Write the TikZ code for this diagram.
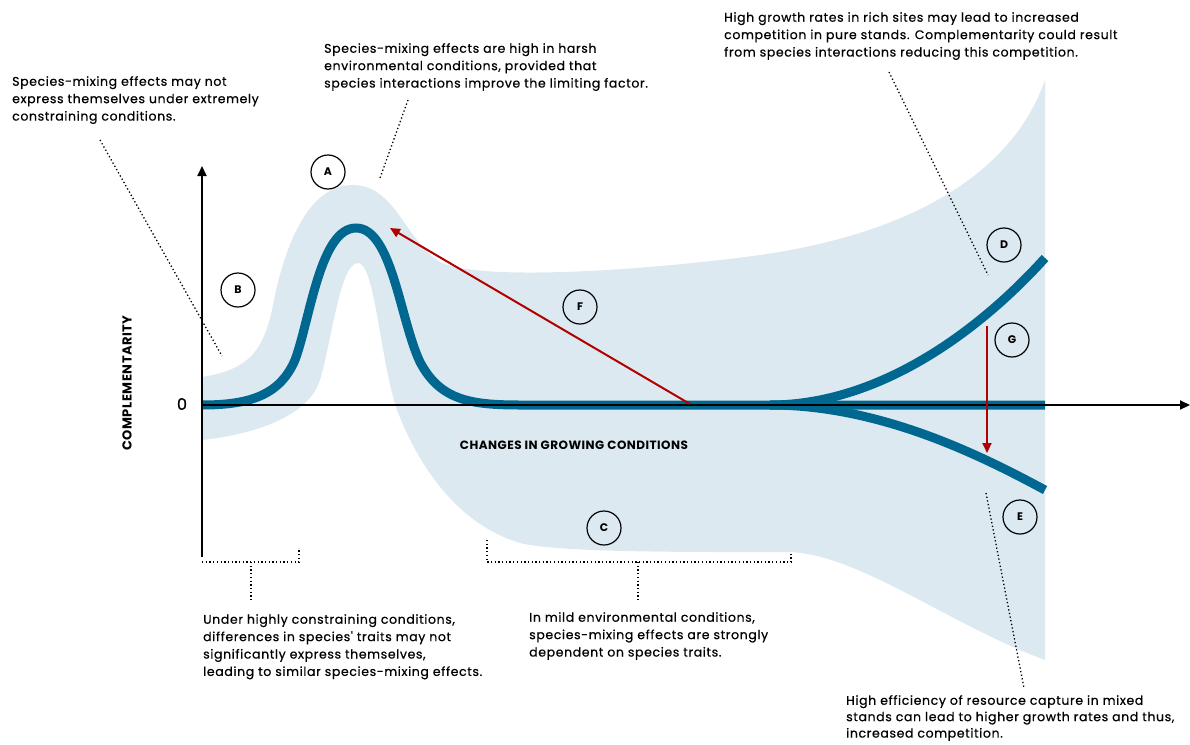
\documentclass[tikz,border=0pt]{standalone}
\usepackage{fontspec}
\setmainfont{Poppins}
\newfontfamily\notefont{Poppins}[FakeBold=0.6, LetterSpace=5]
\newfontfamily\capsfont{Poppins}[LetterSpace=4]
\usetikzlibrary{arrows.meta}

\definecolor{curveblue}{RGB}{0,103,145}
\definecolor{bandblue}{RGB}{221,233,240}
\definecolor{arrowred}{RGB}{176,0,0}

\tikzset{
	note/.style={anchor=north west, align=left, inner sep=0pt,
		font=\notefont\fontsize{12.5}{17.4}\selectfont},
	letter/.style={circle, draw, line width=1.2pt, minimum size=34pt,
		inner sep=0pt, font=\fontsize{11}{12}\selectfont\bfseries},
	leader/.style={line width=1.3pt, dash pattern=on 1.3pt off 2.4pt},
	axislabel/.style={inner sep=0pt, font=\capsfont\bfseries\fontsize{12}{14}\selectfont},
	redarrow/.style={arrowred, line width=2pt, -{Triangle[length=10pt,width=9pt]}}
}

\begin{document}
\begin{tikzpicture}[x=1pt, y=-1pt]
	\useasboundingbox (0,0) rectangle (1190,744);

	% band of possible responses
	\fill[bandblue] (202,377)
		.. controls (245,370) and (262,355) .. (272,310)
		.. controls (285,240) and (310,185) .. (353,185)
		.. controls (395,185) and (405,240) .. (440,262)
		.. controls (480,282) and (650,270) .. (760,255)
		.. controls (900,235) and (1010,180) .. (1045,80)
		-- (1045,660)
		.. controls (950,625) and (860,555) .. (790,552)
		.. controls (700,552) and (560,553) .. (520,543)
		.. controls (460,525) and (420,470) .. (397,410)
		.. controls (380,360) and (375,263) .. (358,263)
		.. controls (340,263) and (332,340) .. (320,380)
		.. controls (308,418) and (250,435) .. (202,440)
		-- cycle;

	% mean response
	\draw[curveblue, line width=9pt] (202,405)
		.. controls (250,405) and (280,395) .. (295,360)
		.. controls (310,320) and (320,228) .. (356,228)
		.. controls (392,228) and (400,320) .. (420,362)
		.. controls (440,400) and (470,405) .. (520,405)
		-- (1045,405);
	\draw[curveblue, line width=9pt] (770,405)
		.. controls (880,405) and (980,330) .. (1045,258);
	\draw[curveblue, line width=9pt] (770,405)
		.. controls (880,405) and (980,455) .. (1045,490);

	% axes
	\coordinate (O) at (202,405);
	\coordinate (ybot) at (202,557);
	\coordinate (ytop) at (202,166);
	\coordinate (xend) at (1190,405);
	\draw[line width=2pt, -{Triangle[length=10pt,width=9pt]}] (ybot) -- (ytop);
	\draw[line width=2pt, -{Triangle[length=10pt,width=9pt]}] (O) -- (xend);
	\node[font=\notefont\fontsize{16}{18}\selectfont] (zero) at (182,404) {0};
	\node[axislabel, rotate=90] (ylab) at (127,383) {\fontsize{13}{14}\selectfont COMPLEMENTARITY};
	\node[axislabel] (xlab) at (574,445) {CHANGES IN GROWING CONDITIONS};

	% red arrows
	\coordinate (Fstart) at (690,404);
	\coordinate (Fend) at (390,228);
	\coordinate (Gstart) at (987,326);
	\coordinate (Gend) at (987,453);
	\draw[redarrow] (Fstart) -- (Fend);
	\draw[redarrow] (Gstart) -- (Gend);

	% letters
	\foreach \name/\x/\y in {A/328/172, B/238/290, C/604/528, D/1004/245,
		E/1020/517, F/580/307, G/1012/340}
		\node[letter] (\name) at (\x,\y) {\name};

	% notes
	\node[note] (noteB) at (12,76) {Species-mixing effects may not\\
		express themselves under extremely\\constraining conditions.};
	\node[note] (noteA) at (324,43) {Species-mixing effects are high in harsh\\
		environmental conditions, provided that\\species interactions improve the limiting factor.};
	\node[note] (noteD) at (724,12) {High growth rates in rich sites may lead to increased\\
		competition in pure stands. Complementarity could result\\from species interactions reducing this competition.};
	\node[note] (noteL) at (203,614) {Under highly constraining conditions,\\
		differences in species' traits may not\\significantly express themselves,\\
		leading to similar species-mixing effects.};
	\node[note] (noteC) at (529,612) {In mild environmental conditions,\\
		species-mixing effects are strongly\\dependent on species traits.};
	\node[note, font=\notefont\fontsize{12.5}{16.4}\selectfont] (noteE) at (846,695)
		{High efficiency of resource capture in mixed\\
		stands can lead to higher growth rates and thus,\\increased competition.};

	% leaders
	\coordinate (lB1) at (100,140);
	\coordinate (lB2) at (222,356);
	\coordinate (lA1) at (408,100);
	\coordinate (lA2) at (380,178);
	\coordinate (lD1) at (889,72);
	\coordinate (lD2) at (988,275);
	\coordinate (lE1) at (986,493);
	\coordinate (lE2) at (1024,688);
	\draw[leader] (lB1) -- (lB2);
	\draw[leader] (lA1) -- (lA2);
	\draw[leader] (lD1) -- (lD2);
	\draw[leader] (lE1) -- (lE2);

	% brackets below the plot
	\coordinate (bl1) at (202,562);
	\coordinate (bl2) at (299,562);
	\coordinate (bl3) at (299,548);
	\coordinate (blm) at (251,562);
	\coordinate (blt) at (251,600);
	\draw[leader] (bl1) -- (bl2) -- (bl3);
	\draw[leader] (blm) -- (blt);
	\coordinate (bm0) at (487,540);
	\coordinate (bm1) at (487,562);
	\coordinate (bm2) at (791,562);
	\coordinate (bm3) at (791,553);
	\coordinate (bmm) at (638,562);
	\coordinate (bmt) at (638,600);
	\draw[leader] (bm0) -- (bm1) -- (bm2) -- (bm3);
	\draw[leader] (bmm) -- (bmt);
\end{tikzpicture}
\end{document}
